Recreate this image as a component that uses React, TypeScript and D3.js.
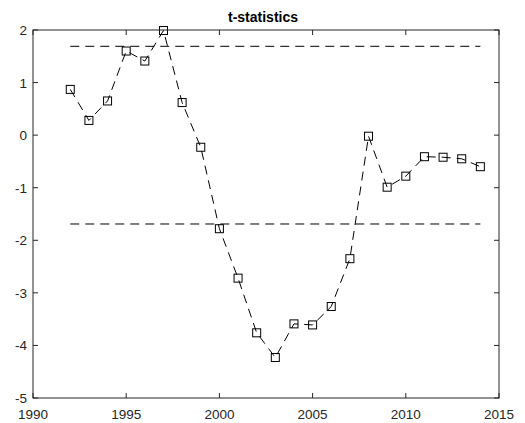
import React from "react";
import * as d3 from "d3";

const years = [1992, 1993, 1994, 1995, 1996, 1997, 1998, 1999, 2000, 2001, 2002, 2003, 2004, 2005, 2006, 2007, 2008, 2009, 2010, 2011, 2012, 2013, 2014];
const tStats = [0.87, 0.28, 0.65, 1.6, 1.41, 1.99, 0.62, -0.23, -1.78, -2.72, -3.76, -4.23, -3.59, -3.61, -3.26, -2.35, -0.02, -0.99, -0.78, -0.41, -0.42, -0.45, -0.6];
const criticalValue = 1.69;
const xTicks = [1990, 1995, 2000, 2005, 2010, 2015];
const yTicks = [-5, -4, -3, -2, -1, 0, 1, 2];

const W = 525;
const H = 423;
const margin = { left: 33, right: 26, top: 30, bottom: 25 };

export default function App() {
  const x = d3.scaleLinear().domain([1990, 2015]).range([margin.left, W - margin.right]);
  const y = d3.scaleLinear().domain([-5, 2]).range([H - margin.bottom, margin.top]);
  const line = d3
    .line<number>()
    .x((_, i) => x(years[i]))
    .y((d) => y(d));
  const x0 = x.range()[0];
  const x1 = x.range()[1];
  const y0 = y.range()[0];
  const y1 = y.range()[1];
  const font = "'Liberation Sans', Arial, Helvetica, sans-serif";
  const tick = 5;
  const ms = 8;
  return (
    <svg width={W} height={H} style={{ position: "absolute", left: 0, top: 0, background: "#fff" }} fontFamily={font}>
      <text x={(x0 + x1) / 2 - 3} y={y1 - 8} textAnchor="middle" fontSize={14} fontWeight="bold">
        t-statistics
      </text>
      {[criticalValue, -criticalValue].map((c) => (
        <line key={c} x1={x(years[0])} x2={x(years[years.length - 1])} y1={y(c)} y2={y(c)} stroke="#000" strokeWidth={1} strokeDasharray="9,6" />
      ))}
      <path d={line(tStats) ?? ""} fill="none" stroke="#000" strokeWidth={1} strokeDasharray="9,6" />
      {tStats.map((v, i) => (
        <rect key={i} x={x(years[i]) - ms / 2} y={y(v) - ms / 2} width={ms} height={ms} fill="none" stroke="#000" strokeWidth={1} />
      ))}
      <rect x={x0} y={y1} width={x1 - x0} height={y0 - y1} fill="none" stroke="#262626" strokeWidth={1} />
      {xTicks.map((t) => (
        <g key={t}>
          <line x1={x(t)} x2={x(t)} y1={y0} y2={y0 - tick} stroke="#262626" />
          <line x1={x(t)} x2={x(t)} y1={y1} y2={y1 + tick} stroke="#262626" />
          <text x={x(t)} y={y0 + 21} textAnchor="middle" fontSize={13.5} fill="#262626">
            {t}
          </text>
        </g>
      ))}
      {yTicks.map((t) => (
        <g key={t}>
          <line x1={x0} x2={x0 + tick} y1={y(t)} y2={y(t)} stroke="#262626" />
          <line x1={x1} x2={x1 - tick} y1={y(t)} y2={y(t)} stroke="#262626" />
          <text x={x0 - 6} y={y(t) + 5} textAnchor="end" fontSize={13.5} fill="#262626">
            {t}
          </text>
        </g>
      ))}
    </svg>
  );
}
